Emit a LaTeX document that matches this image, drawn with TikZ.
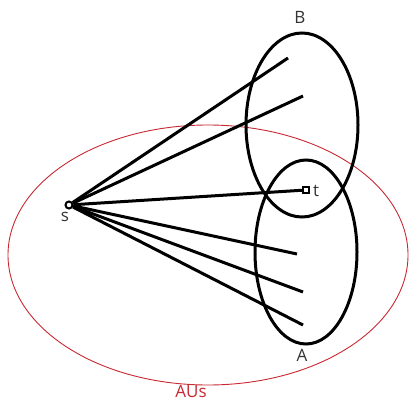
\documentclass[tikz,border=0pt]{standalone}
\usepackage{fontspec}
\setmainfont{Open Sans}
\definecolor{aured}{RGB}{200,40,50}
\begin{document}
\begin{tikzpicture}[x=1pt,y=-1pt,
  thick line/.style={line width=3pt,black},
  lbl/.style={font=\fontsize{17}{17}\selectfont,inner sep=0pt,text=black!80}]
\useasboundingbox (0,0) rectangle (409,404);
% red set
\draw[aured,line width=0.9pt] (208,255) ellipse [x radius=200,y radius=130];
\node[lbl,text=aured] (aus) at (191,391) {AUs};
% sets A and B
\draw[thick line] (302,125) ellipse [x radius=56,y radius=92];
\draw[thick line] (306,252) ellipse [x radius=51,y radius=92];
\node[lbl] (B) at (300,17) {B};
\node[lbl] (A) at (302,355) {A};
% vertices
\node[draw,circle,line width=2pt,inner sep=0pt,minimum size=7pt] (s) at (69,205) {};
\node[draw,rectangle,line width=2pt,inner sep=0pt,minimum size=6pt] (t) at (306,190) {};
\node[lbl] (sl) at (65,217) {s};
\node[lbl] (tl) at (316,191) {t};
% end points
\coordinate (e1) at (288,58);
\coordinate (e2) at (303,96);
\coordinate (e4) at (297,254);
\coordinate (e5) at (303,292);
\coordinate (e6) at (303,325);
\foreach \e in {e1,e2,e4,e5,e6} \draw[thick line] (s) -- (\e);
\draw[thick line] (s) -- (t);
\end{tikzpicture}
\end{document}
